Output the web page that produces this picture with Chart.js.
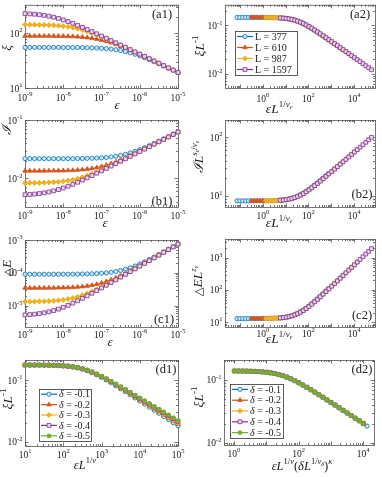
<!DOCTYPE html>
<html>
<head>
<meta charset="utf-8">
<title>Finite-size scaling collapse</title>
<script src="https://cdn.jsdelivr.net/npm/chart.js@4.4.1/dist/chart.umd.min.js"></script>
<style>
  body { margin: 0; background: #fff; }
  #fig { position: relative; width: 382px; height: 477px; overflow: hidden; background: #fff; }
  #fig canvas { position: absolute; left: 0; top: 0; }
</style>
</head>
<body>
<div id="fig"></div>
<script>
// ---------- data ----------
const sizes = [377, 610, 987, 1597];
const deltas = ['-0.1', '-0.2', '-0.3', '-0.4', '-0.5'];
const invNuEps = 3.05;   // 1/nu_eps used on the collapsed x axis
const sOverNu = 1;       // s_eps/nu_eps
const zEps = 2;          // z_eps

const epsGrid = [1e-9,1.334e-9,1.778e-9,2.371e-9,3.162e-9,4.217e-9,5.623e-9,7.499e-9,
  1e-8,1.334e-8,1.778e-8,2.371e-8,3.162e-8,4.217e-8,5.623e-8,7.499e-8,
  1e-7,1.334e-7,1.778e-7,2.371e-7,3.162e-7,4.217e-7,5.623e-7,7.499e-7,
  1e-6,1.334e-6,1.778e-6,2.371e-6,3.162e-6,4.217e-6,5.623e-6,7.499e-6,1e-5];

// (a1) correlation length xi
const xi377 = [55.0,55.0,55.0,55.0,55.0,55.0,55.0,54.9,54.9,54.9,54.8,54.7,54.6,54.4,54.1,53.7,53.1,52.4,51.3,50.0,48.3,46.2,43.9,41.3,38.5,35.7,32.9,30.2,27.6,25.2,23.0,21.0,19.1];
const xi610 = [89.1,89.0,89.0,88.9,88.9,88.8,88.6,88.4,88.1,87.6,87.0,86.1,84.9,83.2,81.0,78.2,74.9,71.1,66.9,62.4,57.8,53.3,48.9,44.8,40.9,37.3,34.0,30.9,28.1,25.6,23.2,21.1,19.2];
const xi987 = [143.6,143.3,143.0,142.5,141.7,140.7,139.2,137.2,134.5,131.0,126.5,121.2,115.0,108.1,100.9,93.5,86.2,79.1,72.4,66.1,60.3,54.9,50.0,45.4,41.3,37.6,34.2,31.0,28.2,25.6,23.3,21.2,19.2];
const xi1597 = [227.7,225.3,222.1,217.7,212.0,204.8,196.1,186.1,175.0,163.3,151.3,139.5,128.1,117.2,107.0,97.6,88.9,80.9,73.6,66.9,60.8,55.3,50.2,45.6,41.5,37.7,34.2,31.1,28.3,25.7,23.3,21.2,19.2];

// (b1) I
const I377 = [0.0218,0.0218,0.0218,0.0218,0.0218,0.0218,0.0218,0.0218,0.0218,0.0218,0.0218,0.0219,0.0219,0.0220,0.0221,0.0223,0.0225,0.0228,0.0233,0.0239,0.0248,0.0259,0.0273,0.0290,0.0311,0.0335,0.0364,0.0396,0.0433,0.0474,0.0520,0.0571,0.0627];
const I610 = [0.01345,0.01345,0.01346,0.01346,0.01347,0.01349,0.01351,0.01354,0.01359,0.01366,0.01376,0.01391,0.01411,0.01440,0.01478,0.01530,0.01598,0.01684,0.01791,0.01920,0.02071,0.02247,0.02448,0.02674,0.02929,0.03212,0.03527,0.03875,0.04261,0.04686,0.05155,0.05671,0.06242];
const I987 = [0.008338,0.008352,0.008373,0.008403,0.008446,0.008508,0.008597,0.008723,0.008899,0.009139,0.009460,0.009880,0.01041,0.01107,0.01187,0.01280,0.01389,0.01513,0.01653,0.01810,0.01986,0.02180,0.02396,0.02634,0.02897,0.03187,0.03505,0.03859,0.04245,0.04673,0.05141,0.05659,0.06228];
const I1597 = [0.005259,0.005314,0.005392,0.005500,0.005649,0.005847,0.006107,0.006436,0.006843,0.007335,0.007914,0.008584,0.009352,0.01022,0.01119,0.01227,0.01347,0.01481,0.01628,0.01790,0.01970,0.02167,0.02385,0.02624,0.02888,0.03178,0.03498,0.03849,0.04237,0.04664,0.05135,0.05652,0.06221];

// (c1) gap Delta E
const dE377 = [9.15e-5,9.15e-5,9.15e-5,9.15e-5,9.15e-5,9.16e-5,9.16e-5,9.17e-5,9.18e-5,9.19e-5,9.21e-5,9.24e-5,9.29e-5,9.36e-5,9.45e-5,9.59e-5,9.80e-5,1.008e-4,1.049e-4,1.107e-4,1.186e-4,1.294e-4,1.437e-4,1.625e-4,1.866e-4,2.173e-4,2.557e-4,3.034e-4,3.622e-4,4.343e-4,5.225e-4,6.299e-4,7.605e-4];
const dE610 = [3.498e-5,3.500e-5,3.502e-5,3.506e-5,3.511e-5,3.519e-5,3.531e-5,3.549e-5,3.574e-5,3.611e-5,3.665e-5,3.742e-5,3.852e-5,4.009e-5,4.228e-5,4.530e-5,4.941e-5,5.489e-5,6.206e-5,7.128e-5,8.299e-5,9.766e-5,1.159e-4,1.384e-4,1.659e-4,1.996e-4,2.406e-4,2.905e-4,3.511e-4,4.247e-4,5.140e-4,6.223e-4,7.536e-4];
const dE987 = [1.344e-5,1.349e-5,1.355e-5,1.365e-5,1.379e-5,1.400e-5,1.429e-5,1.471e-5,1.531e-5,1.615e-5,1.730e-5,1.887e-5,2.096e-5,2.370e-5,2.723e-5,3.170e-5,3.730e-5,4.426e-5,5.284e-5,6.336e-5,7.622e-5,9.189e-5,1.110e-4,1.341e-4,1.622e-4,1.963e-4,2.377e-4,2.878e-4,3.486e-4,4.222e-4,5.114e-4,6.196e-4,7.506e-4];
const dE1597 = [5.346e-6,5.458e-6,5.619e-6,5.848e-6,6.167e-6,6.609e-6,7.208e-6,8.007e-6,9.053e-6,1.040e-5,1.211e-5,1.425e-5,1.691e-5,2.018e-5,2.420e-5,2.911e-5,3.510e-5,4.238e-5,5.122e-5,6.196e-5,7.499e-5,9.078e-5,1.099e-4,1.331e-4,1.613e-4,1.953e-4,2.367e-4,2.867e-4,3.473e-4,4.207e-4,5.097e-4,6.176e-4,7.481e-4];

// (d1) xi/L for several delta
const dGrid = [10,13.34,17.78,23.71,31.62,42.17,56.23,74.99,100,133.4,177.8,237.1,316.2,421.7,562.3,749.9,
  1000,1334,1778,2371,3162,4217,5623,7499,1e4,1.334e4,1.778e4,2.371e4,3.162e4,4.217e4,5.623e4,7.499e4,1e5];
const d1Blue = [0.1745,0.1744,0.1742,0.1740,0.1737,0.1732,0.1724,0.1712,0.1693,0.1664,0.1626,0.1571,0.1501,0.1415,0.1317,0.1212,0.1104,0.0999,0.0900,0.0807,0.0722,0.0646,0.0577,0.0514,0.0459,0.0409,0.0365,0.0325,0.0290,0.0258,0.0230,0.0205,0.0183];
const d1Orange = [0.1745,0.1744,0.1742,0.1740,0.1737,0.1732,0.1724,0.1712,0.1694,0.1667,0.1629,0.1576,0.1507,0.1423,0.1327,0.1224,0.1118,0.1015,0.0916,0.0824,0.0740,0.0663,0.0594,0.0531,0.0475,0.0425,0.0380,0.0340,0.0304,0.0272,0.0243,0.0217,0.0194];
const d1Yellow = [0.1745,0.1744,0.1742,0.1740,0.1737,0.1732,0.1724,0.1712,0.1694,0.1669,0.1631,0.1579,0.1511,0.1428,0.1334,0.1232,0.1127,0.1025,0.0927,0.0836,0.0752,0.0675,0.0606,0.0543,0.0487,0.0437,0.0391,0.0350,0.0314,0.0281,0.0252,0.0226,0.0202];
const d1Purple = [0.1745,0.1744,0.1742,0.1740,0.1737,0.1732,0.1724,0.1712,0.1695,0.1671,0.1634,0.1583,0.1517,0.1436,0.1344,0.1244,0.1141,0.1040,0.0943,0.0853,0.0769,0.0693,0.0624,0.0561,0.0504,0.0453,0.0408,0.0366,0.0329,0.0296,0.0266,0.0239,0.0215];
const d1Green = [0.1745,0.1744,0.1742,0.1740,0.1737,0.1732,0.1724,0.1712,0.1695,0.1672,0.1636,0.1586,0.1521,0.1441,0.1350,0.1251,0.1149,0.1049,0.0953,0.0863,0.0780,0.0704,0.0635,0.0572,0.0515,0.0464,0.0418,0.0376,0.0339,0.0305,0.0274,0.0247,0.0222];

// (d2) collapsed curves
const d2Start = [1.334, 1.072, 1.047, 1.023, 1.0];   // first x of each delta in (d2)
const d2Blue = [0.1385,0.1383,0.1379,0.1374,0.1367,0.1357,0.1343,0.1324,0.1298,0.1264,0.1221,0.1169,0.1109,0.1043,0.0973,0.0902,0.0831,0.0763,0.0699,0.0638,0.0582,0.0530,0.0482,0.0438,0.0399,0.0362,0.0329,0.0299,0.0272,0.0247,0.0225,0.0204,0.0185];
const d2Rest = [0.1387,0.1385,0.1383,0.1379,0.1374,0.1367,0.1357,0.1343,0.1324,0.1298,0.1264,0.1221,0.1169,0.1109,0.1043,0.0973,0.0902,0.0831,0.0763,0.0699,0.0638,0.0582,0.0530,0.0482,0.0438,0.0399,0.0362,0.0329,0.0299,0.0272,0.0247,0.0225,0.0204];

// tick labels
const xTicksEps = [1e-9, 1e-8, 1e-7, 1e-6, 1e-5];
const xTicksScaled = [1, 1e2, 1e4];
const xTicksD1 = [1e1, 1e2, 1e3, 1e4, 1e5];
const yTicksA1 = [10, 100];
const yTicksA2 = [0.01, 0.1];
const yTicksB1 = [0.01, 0.1];
const yTicksB2 = [10, 100];
const yTicksC1 = [1e-5, 1e-4, 1e-3];
const yTicksC2 = [10, 100, 1000];
const yTicksD = [0.01, 0.1];

// ---------- styles ----------
const SERIF = '"Liberation Serif","DejaVu Serif","Times New Roman",serif';
const AXIS = '#555';
const TXT = '#1a1a1a';
const seriesColors = ['#0072BD', '#D95319', '#EDB120', '#7E2F8E', '#77AC30'];
const seriesFill = ['#d4e7f5', '#D95319', '#EDB120', '#ead9ee', '#77AC30'];
const seriesMarker = ['circle', 'triangle', 'rectRot', 'rect', 'star'];
const markerRadius = [2.1, 2.6, 2.6, 2.7, 2.4];
const markerBorder = [0.8, 0.8, 0.8, 0.8, 1.3];

function dataset(xs, ys, i) {
    return {
        data: xs.map((v, k) => ({ x: v, y: ys[k] })),
        showLine: true,
        borderColor: seriesColors[i],
        borderWidth: 1,
        pointStyle: seriesMarker[i],
        pointRadius: markerRadius[i],
        pointBackgroundColor: seriesFill[i],
        pointBorderColor: seriesColors[i],
        pointBorderWidth: markerBorder[i],
        clip: false,
        order: 10 - i
    };
}

// label pieces: [text, size, dy, italic]
const M = 13.5, S = 9, SS = 6.5;
const lab = {
    eps: [['ε', 13, 0, 1]],
    xi: [['ξ', 13, 0, 1]],
    xiL: [['ξ', M, 0, 1], ['L', M, 0, 1], ['-1', S, -6, 0]],
    epsLe: [['ε', M, 0, 1], ['L', M, 0, 1], ['1/', S, -6, 0], ['ν', S, -6, 1], ['ε', SS, -3.5, 1]],
    I: [['ℐ', 13, 0, 1]],
    IL: [['ℐ', M, 0, 1], ['L', M, 0, 1], ['s', S, -6, 1], ['ε', SS, -3.5, 1], ['/', S, -6, 0], ['ν', S, -6, 1], ['ε', SS, -3.5, 1]],
    dE: [['△', 11, 0, 0], ['E', 13, 0, 1]],
    dEL: [['△', 11.5, 0, 0], ['E', M, 0, 1], ['L', M, 0, 1], ['z', S, -6, 1], ['ε', SS, -3.5, 1]],
    epsLnu: [['ε', 12.5, 0, 1], ['L', 12.5, 0, 1], ['1/', 8.5, -6, 0], ['ν', 8.5, -6, 1]],
    d2: [['ε', 12.5, 0, 1], ['L', 12.5, 0, 1], ['1/', 8.5, -6, 0], ['ν', 8.5, -6, 1], ['(', 12.5, 0, 0], ['δ', 12.5, 0, 1], ['L', 12.5, 0, 1],
         ['1/', 8.5, -6, 0], ['ν', 8.5, -6, 1], ['δ', 6, -3.5, 1], [')', 12.5, 0, 0], ['κ', 8.5, -6, 1]]
};

function richText(ctx, segs, x, y, rot) {
    const fontOf = s => (s[3] ? 'italic ' : '') + s[1] + 'px ' + SERIF;
    ctx.save();
    ctx.translate(x, y);
    if (rot) ctx.rotate(-Math.PI / 2);
    let w = 0;
    segs.forEach(s => { ctx.font = fontOf(s); w += ctx.measureText(s[0]).width; });
    let cx = -w / 2;
    ctx.textAlign = 'left';
    ctx.textBaseline = 'alphabetic';
    ctx.fillStyle = TXT;
    segs.forEach(s => {
        ctx.font = fontOf(s);
        ctx.fillText(s[0], cx, 4.5 + s[2]);
        cx += ctx.measureText(s[0]).width;
    });
    ctx.restore();
}

function powLabel(ctx, v, x, y, align) {
    const e = String(Math.round(Math.log10(v)));
    ctx.font = '9.5px ' + SERIF;
    const wb = ctx.measureText('10').width;
    ctx.font = '6.5px ' + SERIF;
    const we = ctx.measureText(e).width;
    const x0 = align === 'right' ? x - wb - we : x - (wb + we) / 2;
    ctx.textAlign = 'left';
    ctx.textBaseline = 'middle';
    ctx.fillStyle = TXT;
    ctx.font = '9.5px ' + SERIF;
    ctx.fillText('10', x0, y);
    ctx.font = '6.5px ' + SERIF;
    ctx.fillText(e, x0 + wb, y - 3.5);
}

function logTicks(min, max) {
    const out = [];
    for (let e = Math.floor(Math.log10(min)); e <= Math.ceil(Math.log10(max)); e++) {
        for (let m = 1; m <= 9; m++) {
            const v = m * Math.pow(10, e);
            if (v >= min * 0.999 && v <= max * 1.001) out.push({ v: v, major: m === 1 });
        }
    }
    return out;
}

function drawMarker(ctx, i, x, y) {
    ctx.fillStyle = seriesFill[i];
    ctx.strokeStyle = seriesColors[i];
    ctx.lineWidth = markerBorder[i];
    if (Chart.helpers && Chart.helpers.drawPoint) {
        Chart.helpers.drawPoint(ctx, { pointStyle: seriesMarker[i], rotation: 0, radius: markerRadius[i], borderWidth: markerBorder[i] }, x, y);
    } else {
        ctx.beginPath();
        ctx.arc(x, y, markerRadius[i], 0, Math.PI * 2);
        ctx.fill();
        ctx.stroke();
    }
}

function drawLegend(ctx, lg) {
    const [x0, y0, x1, y1] = lg.box;
    const rowH = (y1 - y0) / lg.rows.length;
    ctx.save();
    ctx.fillStyle = '#fff';
    ctx.fillRect(x0, y0, x1 - x0, y1 - y0);
    ctx.strokeStyle = '#333';
    ctx.lineWidth = 0.8;
    ctx.strokeRect(x0 + 0.5, y0 + 0.5, x1 - x0, y1 - y0);
    lg.rows.forEach((row, i) => {
        const y = y0 + rowH * (i + 0.5);
        ctx.strokeStyle = seriesColors[i];
        ctx.lineWidth = 1.2;
        ctx.beginPath();
        ctx.moveTo(x0 + 2, y);
        ctx.lineTo(x0 + 18, y);
        ctx.stroke();
        drawMarker(ctx, i, x0 + 10, y);
        let tx = x0 + 20;
        ctx.textBaseline = 'middle';
        ctx.textAlign = 'left';
        ctx.fillStyle = TXT;
        row.forEach(seg => {
            ctx.font = (seg[1] ? 'italic ' : '') + '10px ' + SERIF;
            ctx.fillText(seg[0], tx, y + 0.5);
            tx += ctx.measureText(seg[0]).width;
        });
    });
    ctx.restore();
}

function framePlugin(p) {
    return {
        id: 'frame_' + p.id,
        beforeDatasetsDraw(chart) {
            const ctx = chart.ctx, a = chart.chartArea;
            const sx = chart.scales.x, sy = chart.scales.y;
            ctx.save();
            ctx.strokeStyle = AXIS;
            ctx.lineWidth = 0.8;
            ctx.beginPath();
            logTicks(sx.min, sx.max).forEach(t => {
                const px = Math.round(sx.getPixelForValue(t.v)) + 0.5;
                const len = t.major ? 3.5 : 2;
                ctx.moveTo(px, a.bottom); ctx.lineTo(px, a.bottom - len);
                ctx.moveTo(px, a.top); ctx.lineTo(px, a.top + len);
            });
            logTicks(sy.min, sy.max).forEach(t => {
                const py = Math.round(sy.getPixelForValue(t.v)) + 0.5;
                const len = t.major ? 3.5 : 2;
                ctx.moveTo(a.left, py); ctx.lineTo(a.left + len, py);
                ctx.moveTo(a.right, py); ctx.lineTo(a.right - len, py);
            });
            ctx.stroke();
            ctx.strokeRect(a.left + 0.5, a.top + 0.5, a.right - a.left, a.bottom - a.top);
            p.xt.forEach(v => powLabel(ctx, v, sx.getPixelForValue(v), a.bottom + p.xlo, 'center'));
            p.yt.forEach(v => powLabel(ctx, v, a.left - 2.5, sy.getPixelForValue(v) + 1, 'right'));
            p.labels.forEach(l => richText(ctx, l[0], l[1], l[2], l[3]));
            ctx.font = '12.5px ' + SERIF;
            ctx.fillStyle = TXT;
            ctx.textAlign = 'center';
            ctx.textBaseline = 'middle';
            ctx.fillText(p.tag[0], p.tag[1], p.tag[2]);
            ctx.restore();
        },
        afterDatasetsDraw(chart) {
            if (p.legend) drawLegend(chart.ctx, p.legend);
        }
    };
}

function makePanel(p) {
    const cv = document.createElement('canvas');
    cv.width = 382;
    cv.height = 477;
    document.getElementById('fig').appendChild(cv);
    const [x0, y0, x1, y1] = p.rect;
    new Chart(cv.getContext('2d'), {
        type: 'scatter',
        data: { datasets: p.sets },
        options: {
            responsive: false,
            animation: false,
            devicePixelRatio: 1,
            events: [],
            layout: { padding: { left: x0, top: y0, right: 382 - x1, bottom: 477 - y1 } },
            scales: {
                x: { type: 'logarithmic', min: p.xr[0], max: p.xr[1], display: false },
                y: { type: 'logarithmic', min: p.yr[0], max: p.yr[1], display: false }
            },
            plugins: { legend: { display: false }, tooltip: { enabled: false } }
        },
        plugins: [framePlugin(p)]
    });
}

// ---------- build ----------
const xiSets = [xi377, xi610, xi987, xi1597];
const ISets = [I377, I610, I987, I1597];
const dESets = [dE377, dE610, dE987, dE1597];
const scaledX = sizes.map(L => epsGrid.map(e => e * Math.pow(L, invNuEps)));
const sizeLegend = sizes.map(L => [['L = ' + L, 0]]);
const deltaLegend = deltas.map(d => [['δ', 1], [' = ' + d, 0]]);
const scaledRange = [0.02138, 83750];

makePanel({
    id: 'a1', rect: [25, 3, 178, 88], xr: [1e-9, 1e-5], yr: [10, 330],
    xt: xTicksEps, yt: yTicksA1, xlo: 10,
    sets: xiSets.map((ys, i) => dataset(epsGrid, ys, i)),
    labels: [[lab.eps, 117, 104, false], [lab.xi, 6, 48, true]],
    tag: ['(a1)', 162, 15]
});
makePanel({
    id: 'a2', rect: [225, 3, 375, 88], xr: scaledRange, yr: [0.00504, 0.2667],
    xt: xTicksScaled, yt: yTicksA2, xlo: 11,
    sets: xiSets.map((ys, i) => dataset(scaledX[i], ys.map(v => v / sizes[i]), i)),
    labels: [[lab.epsLe, 279, 108, false], [lab.xiL, 199, 46, true]],
    tag: ['(a2)', 360, 15],
    legend: { box: [235, 31, 297, 75], rows: sizeLegend }
});
makePanel({
    id: 'b1', rect: [25, 120, 178, 207], xr: [1e-9, 1e-5], yr: [0.003236, 0.1],
    xt: xTicksEps, yt: yTicksB1, xlo: 9,
    sets: ISets.map((ys, i) => dataset(epsGrid, ys, i)),
    labels: [[lab.eps, 105, 222, false], [lab.I, 6, 130, true]],
    tag: ['(b1)', 162, 202]
});
makePanel({
    id: 'b2', rect: [225, 120, 375, 207], xr: scaledRange, yr: [6.457, 196.3],
    xt: xTicksScaled, yt: yTicksB2, xlo: 9,
    sets: ISets.map((ys, i) => dataset(scaledX[i], ys.map(v => v * Math.pow(sizes[i], sOverNu)), i)),
    labels: [[lab.epsLe, 279, 222, false], [lab.IL, 198, 157, true]],
    tag: ['(b2)', 362, 195]
});
makePanel({
    id: 'c1', rect: [25, 240, 178, 327], xr: [1e-9, 1e-5], yr: [2.29e-6, 1e-3],
    xt: xTicksEps, yt: yTicksC1, xlo: 8,
    sets: dESets.map((ys, i) => dataset(epsGrid, ys, i)),
    labels: [[lab.eps, 110, 341, false], [lab.dE, 6, 268, true]],
    tag: ['(c1)', 164, 320]
});
makePanel({
    id: 'c2', rect: [225, 239, 375, 327], xr: scaledRange, yr: [7.145, 3793],
    xt: xTicksScaled, yt: yTicksC2, xlo: 7,
    sets: dESets.map((ys, i) => dataset(scaledX[i], ys.map(v => v * Math.pow(sizes[i], zEps)), i)),
    labels: [[lab.epsLe, 279, 338, false], [lab.dEL, 197, 281, true]],
    tag: ['(c2)', 362, 316]
});
makePanel({
    id: 'd1', rect: [25, 360, 178, 446], xr: [10, 1e5], yr: [0.00861, 0.2104],
    xt: xTicksD1, yt: yTicksD, xlo: 9,
    sets: [d1Blue, d1Orange, d1Yellow, d1Purple, d1Green].map((ys, i) => dataset(dGrid, ys, i)),
    labels: [[lab.epsLnu, 85, 464, false], [lab.xiL, 7, 399, true]],
    tag: ['(d1)', 166, 370],
    legend: { box: [39, 389, 91, 441], rows: deltaLegend }
});
makePanel({
    id: 'd2', rect: [224, 360, 374, 445], xr: [0.49, 21878], yr: [0.00929, 0.2075],
    xt: xTicksScaled, yt: yTicksD, xlo: 9,
    sets: [d2Blue, d2Rest, d2Rest, d2Rest, d2Rest].map((ys, i) => dataset(dGrid.map(v => v / 10 * d2Start[i]), ys, i)),
    labels: [[lab.d2, 302, 465, false], [lab.xiL, 198, 397, true]],
    tag: ['(d2)', 362, 370],
    legend: { box: [230, 384, 283, 438], rows: deltaLegend }
});
</script>
</body>
</html>
